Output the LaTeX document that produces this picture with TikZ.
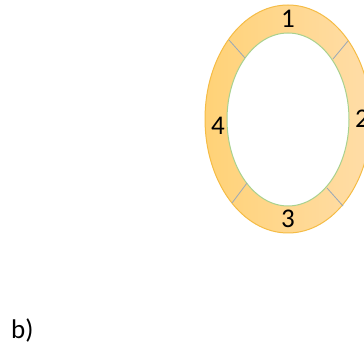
\documentclass[tikz,border=0pt]{standalone}
\usepackage{fontspec}
\setmainfont{Carlito}
\definecolor{ringlinks}{HTML}{FFD277}
\definecolor{ringrechts}{HTML}{FFDDA8}
\definecolor{ringrand}{HTML}{F5BC45}
\definecolor{innenrand}{HTML}{A9D18E}
\definecolor{trennfarbe}{HTML}{9AA8B8}
\begin{document}
\begin{tikzpicture}[
      x=1pt, y=-1pt,
      font=\fontsize{27}{32}\selectfont,
      nummer/.style={inner sep=0pt, text=black},
      trenner/.style={draw=trennfarbe, line width=0.8pt}
    ]
      \useasboundingbox (0,0) rectangle (364,352);
      \begin{scope}
        \clip (0,0) rectangle (364,352);
        % ring
        \shade[left color=ringlinks, right color=ringrechts, draw=ringrand, line width=1pt]
          (288,119) ellipse [x radius=83, y radius=114];
        \filldraw[fill=white, draw=innenrand, line width=1pt] (288,119.5) ellipse [x radius=61, y radius=86.5];
        % trennlinien
        \draw[trenner] (229,40) -- (245,58);
        \draw[trenner] (348,41) -- (333,59);
        \draw[trenner] (232,203) -- (247,183);
        \draw[trenner] (343,206) -- (327,188);
        \node[nummer] (eins) at (288,19) {1};
        \node[nummer] (zwei) at (362,119) {2};
        \node[nummer] (drei) at (288,219) {3};
        \node[nummer] (vier) at (218,126) {4};
      \end{scope}
      \node[nummer, anchor=west] (b) at (11,330) {b)};
    \end{tikzpicture}
\end{document}
